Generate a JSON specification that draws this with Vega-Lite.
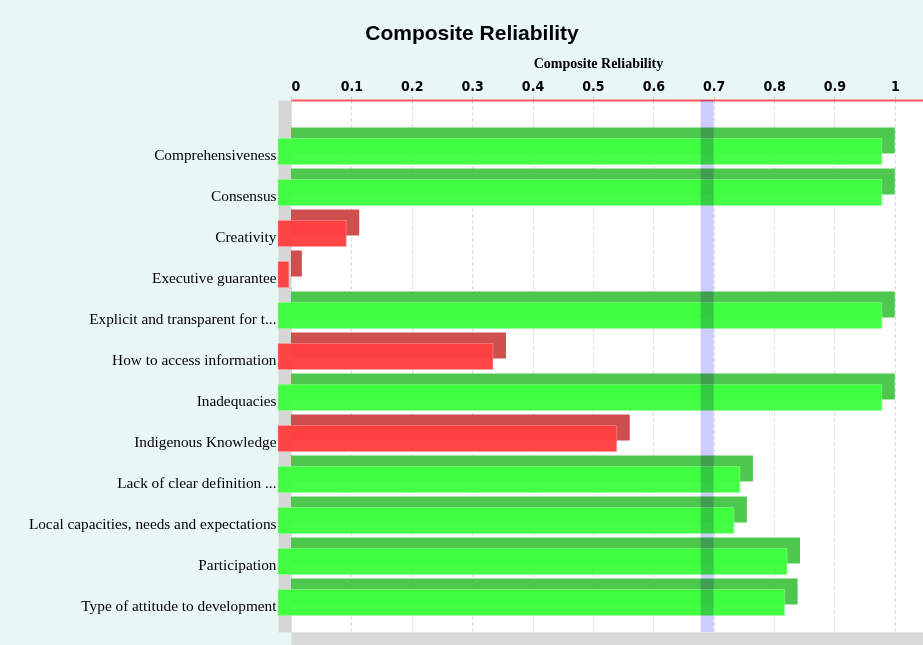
{
  "$schema": "https://vega.github.io/schema/vega-lite/v6.json",
  "autosize": "none",
  "width": 634,
  "height": 532,
  "padding": {"left": 291, "top": 100, "right": 0, "bottom": 13},
  "background": "#e8f6f6",
  "title": {
    "text": "Composite Reliability",
    "font": "Liberation Sans",
    "fontSize": 21,
    "fontWeight": "bold",
    "color": "#000000",
    "anchor": "middle",
    "dx": -136,
    "offset": 12
  },
  "data": {
    "values": [
      {"construct": "Comprehensiveness", "value": 1.0},
      {"construct": "Consensus", "value": 1.0},
      {"construct": "Creativity", "value": 0.113},
      {"construct": "Executive guarantee", "value": 0.018},
      {"construct": "Explicit and transparent for t...", "value": 1.0},
      {"construct": "How to access information", "value": 0.356},
      {"construct": "Inadequacies", "value": 1.0},
      {"construct": "Indigenous Knowledge", "value": 0.561},
      {"construct": "Lack of clear definition ...", "value": 0.765},
      {"construct": "Local capacities, needs and expectations", "value": 0.755},
      {"construct": "Participation", "value": 0.843},
      {"construct": "Type of attitude to development", "value": 0.839}
    ]
  },
  "config": {
    "view": {"stroke": null, "fill": "#ffffff"}
  },
  "resolve": {"axis": {"x": "independent"}},
  "layer": [
    {
      "mark": {"type": "bar", "opacity": 0.95},
      "encoding": {
        "y": {
          "field": "construct",
          "type": "nominal",
          "sort": null,
          "scale": {"paddingInner": 0.366, "paddingOuter": 0.671},
          "axis": {
            "title": null,
            "orient": "left",
            "ticks": false,
            "offset": 6.5,
            "labelPadding": 8.5,
            "labelOffset": 14.5,
            "labelFont": "Liberation Serif",
            "labelFontSize": 15.3,
            "labelColor": "#000000",
            "labelLimit": 300,
            "domainColor": "#d6d6d6",
            "domainWidth": 13,
            "domainCap": "butt"
          }
        },
        "x": {
          "field": "value",
          "type": "quantitative",
          "scale": {"domain": [0, 1.05], "nice": false},
          "axis": {
            "orient": "top",
            "title": "Composite Reliability",
            "titleFont": "Liberation Serif",
            "titleFontSize": 14,
            "titleFontWeight": "bold",
            "titleColor": "#000000",
            "titleX": 307,
            "titleY": -37,
            "titleBaseline": "middle",
            "values": [0, 0.1, 0.2, 0.3, 0.4, 0.5, 0.6, 0.7, 0.8, 0.9, 1],
            "format": "~g",
            "labelFont": "DejaVu Sans Condensed, Liberation Sans Narrow, Liberation Sans, sans-serif",
            "labelFontSize": 14,
            "labelFontWeight": "bold",
            "labelColor": "#000000",
            "labelPadding": 3,
            "tickSize": 4,
            "tickColor": "#cccccc",
            "domainColor": "#ff5a5a",
            "domainWidth": 2,
            "grid": true,
            "gridColor": "#d4d4d4",
            "gridDash": [3, 3],
            "gridWidth": 1
          }
        },
        "color": {
          "condition": {"test": "datum.value >= 0.7", "value": "#44c444"},
          "value": "#cc4444"
        }
      }
    },
    {
      "mark": {
        "type": "bar",
        "opacity": 0.97,
        "xOffset": -13,
        "x2Offset": -13,
        "yOffset": 11,
        "y2Offset": 11,
        "strokeWidth": 1,
        "strokeOpacity": 0.5
      },
      "encoding": {
        "y": {"field": "construct", "type": "nominal", "sort": null},
        "x": {
          "field": "value",
          "type": "quantitative",
          "axis": {
            "orient": "bottom",
            "title": null,
            "labels": false,
            "ticks": false,
            "grid": false,
            "offset": 6.5,
            "domainColor": "#d9d9d9",
            "domainWidth": 13,
            "domainCap": "butt"
          }
        },
        "color": {
          "condition": {"test": "datum.value >= 0.7", "value": "#3fff3f"},
          "value": "#ff4040"
        },
        "stroke": {
          "condition": {"test": "datum.value >= 0.7", "value": "#9fff9f"},
          "value": "#ff9f9f"
        }
      }
    },
    {
      "data": {"values": [{"threshold": 0.7}]},
      "mark": {
        "type": "rule",
        "color": "#ccccff",
        "strokeWidth": 13,
        "xOffset": -6.5,
        "blend": "multiply"
      },
      "encoding": {
        "x": {"field": "threshold", "type": "quantitative", "axis": null}
      }
    }
  ]
}
